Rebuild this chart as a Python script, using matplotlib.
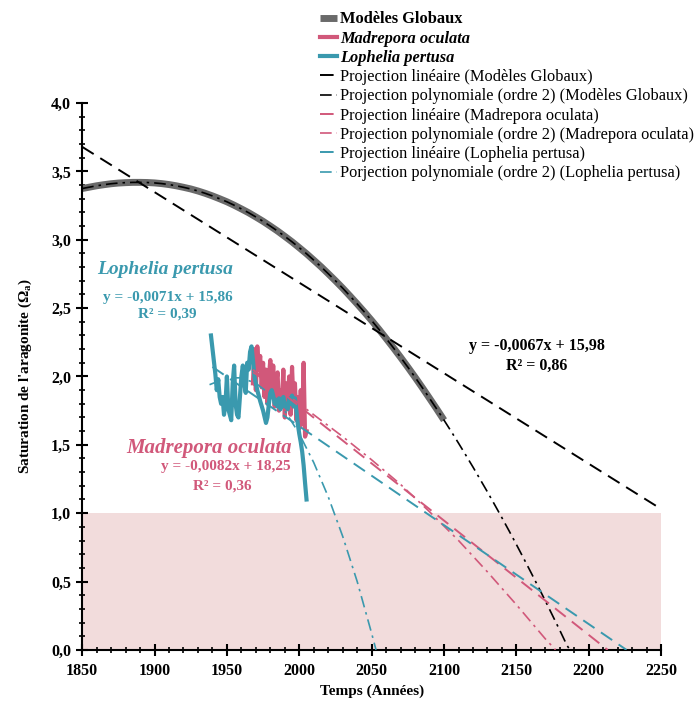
import matplotlib
matplotlib.use("Agg")
import matplotlib.pyplot as plt
from matplotlib.ticker import MultipleLocator, FuncFormatter

plt.rcParams['font.family'] = ['Liberation Serif', 'DejaVu Serif']
plt.rcParams['mathtext.fontset'] = 'custom'
plt.rcParams['mathtext.rm'] = 'Liberation Serif'
plt.rcParams['mathtext.bf'] = 'Liberation Serif:bold'

GREY = '#6a6a6a'
PINK = '#d1587a'
TEAL = '#3a99ae'

# Global models (simulated saturation)
global_years = list(range(1850, 2101, 5))
global_vals = [3.375, 3.385, 3.395, 3.403, 3.410, 3.415, 3.418, 3.420, 3.420, 3.419,
               3.416, 3.411, 3.404, 3.395, 3.384, 3.372, 3.357, 3.340, 3.321, 3.300,
               3.278, 3.253, 3.226, 3.198, 3.167, 3.135, 3.100, 3.064, 3.025, 2.985,
               2.942, 2.898, 2.851, 2.803, 2.752, 2.700, 2.646, 2.589, 2.531, 2.471,
               2.409, 2.345, 2.278, 2.210, 2.140, 2.068, 1.994, 1.918, 1.840, 1.761,
               1.680]

# Madrepora oculata reconstruction
mado_years = list(range(1968, 2006))
mado_vals = [1.95, 2.20, 1.90, 2.22, 2.05, 2.15, 1.92, 2.10, 1.85, 2.05, 1.80, 2.00,
             2.12, 1.85, 2.08, 1.78, 1.95, 2.03, 1.75, 1.90, 1.82, 2.05, 1.70, 1.95,
             1.78, 2.00, 1.72, 2.07, 1.80, 1.95, 1.68, 1.85, 1.62, 1.90, 1.65, 2.10,
             1.56, 1.60]

# Lophelia pertusa reconstruction
loph_years = [1939, 1942, 1943, 1944, 1945, 1946, 1947, 1948, 1949, 1950, 1951, 1952,
              1953, 1954, 1955, 1956, 1957, 1958, 1959, 1960, 1961, 1962, 1963, 1964,
              1965, 1966, 1967, 1968, 1969, 1971, 1973, 1975, 1977, 1978, 1979, 1980,
              1981, 1982, 1983, 1984, 1985, 1986, 1987, 1988, 1989, 1990, 1991, 1992,
              1993, 1994, 1995, 1996, 1997, 1998, 1999, 2000, 2001, 2002, 2003, 2004,
              2005]
loph_vals = [2.30, 2.02, 1.90, 1.98, 1.85, 1.80, 1.85, 1.72, 1.80, 2.00, 1.76, 1.72,
             1.68, 1.95, 2.08, 1.80, 1.72, 1.70, 1.85, 2.00, 2.08, 1.95, 1.88, 2.10,
             2.05, 2.18, 2.22, 2.12, 2.00, 1.90, 1.82, 1.75, 1.66, 1.70, 1.80, 1.88,
             1.90, 1.86, 1.80, 1.83, 1.78, 1.84, 1.76, 1.82, 1.85, 1.78, 1.80, 1.76,
             1.84, 1.80, 1.86, 1.78, 1.84, 1.75, 1.65, 1.58, 1.52, 1.45, 1.35, 1.22,
             1.10]

# Projections
glob_lin_years = [1850, 2250]
glob_lin_vals = [3.68, 1.03]
glob_poly_years = global_years + list(range(2105, 2186, 5)) + [2187]
glob_poly_vals = global_vals + [1.597, 1.512, 1.425, 1.337, 1.246, 1.155, 1.061, 0.966,
                                0.869, 0.770, 0.669, 0.567, 0.463, 0.358, 0.250, 0.142,
                                0.031, 0.0]

mado_lin_years = [1968, 2213]
mado_lin_vals = [2.05, 0.0]
mado_poly_years = [1968, 1990, 2010, 2030, 2050, 2070, 2090, 2110, 2130, 2150, 2170, 2177]
mado_poly_vals = [2.03, 1.88, 1.72, 1.56, 1.39, 1.21, 1.01, 0.80, 0.57, 0.33, 0.08, 0.0]

loph_lin_years = [1940, 2226]
loph_lin_vals = [2.07, 0.0]
loph_poly_years = [1938, 1950, 1960, 1970, 1980, 1990, 2000, 2010, 2020, 2030, 2040, 2050, 2053]
loph_poly_vals = [1.94, 1.99, 1.99, 1.95, 1.87, 1.75, 1.58, 1.37, 1.12, 0.83, 0.50, 0.12, 0.0]

fig = plt.figure(figsize=(6.96, 7.11), dpi=100)
ax = fig.add_axes([0.118, 0.086, 0.832, 0.769])

ax.axhspan(0, 1, color='#f2dcdc', zorder=0, lw=0)

l1, = ax.plot(global_years, global_vals, color=GREY, lw=5, solid_capstyle='butt', zorder=2)
l2, = ax.plot(mado_years, mado_vals, color=PINK, lw=3, zorder=3)
l3, = ax.plot(loph_years, loph_vals, color=TEAL, lw=3, zorder=4)
l4, = ax.plot(glob_lin_years, glob_lin_vals, color='black', lw=1.4, ls=(0, (7, 4)), zorder=5)
l5, = ax.plot(glob_poly_years, glob_poly_vals, color='black', lw=1.2, ls=(0, (7, 3, 1.5, 3)), zorder=5)
l6, = ax.plot(mado_lin_years, mado_lin_vals, color=PINK, lw=1.4, ls=(0, (7, 4)), zorder=5)
l7, = ax.plot(mado_poly_years, mado_poly_vals, color=PINK, lw=1.2, ls=(0, (7, 3, 1.5, 3)), zorder=5)
l8, = ax.plot(loph_lin_years, loph_lin_vals, color=TEAL, lw=1.4, ls=(0, (7, 4)), zorder=5)
l9, = ax.plot(loph_poly_years, loph_poly_vals, color=TEAL, lw=1.2, ls=(0, (7, 3, 1.5, 3)), zorder=5)

ax.set_xlim(1850, 2250)
ax.set_ylim(0, 4)
ax.spines['top'].set_visible(False)
ax.spines['right'].set_visible(False)
ax.spines['left'].set_linewidth(1.5)
ax.spines['bottom'].set_linewidth(1.5)
ax.xaxis.set_major_locator(MultipleLocator(50))
ax.xaxis.set_minor_locator(MultipleLocator(10))
ax.yaxis.set_major_locator(MultipleLocator(0.5))
ax.yaxis.set_minor_locator(MultipleLocator(0.1))
ax.yaxis.set_major_formatter(FuncFormatter(lambda v, p: f"{v:.1f}".replace('.', ',')))
ax.tick_params(which='major', direction='inout', length=9, width=1.5, labelsize=11.5)
ax.tick_params(which='minor', direction='inout', length=5, width=1.2)
ax.tick_params(axis='x', pad=5)
for lab in ax.get_xticklabels() + ax.get_yticklabels():
    lab.set_fontweight('bold')

ax.set_xlabel("Temps (Années)", fontsize=11, fontweight='bold', labelpad=4)
ax.set_ylabel(r"Saturation de l'aragonite ($\mathbf{\Omega_a}$)", fontsize=11,
              fontweight='bold', labelpad=12)

# Regression annotations
ax.text(1907, 2.78, "Lophelia pertusa", color=TEAL, fontsize=14, fontweight='bold',
        fontstyle='italic', ha='center', va='center')
ax.text(1909, 2.58, "y = -0,0071x + 15,86", color=TEAL, fontsize=11, fontweight='bold',
        ha='center', va='center')
ax.text(1909, 2.46, "R² = 0,39", color=TEAL, fontsize=11, fontweight='bold',
        ha='center', va='center')

ax.text(1938, 1.48, "Madrepora oculata", color=PINK, fontsize=15, fontweight='bold',
        fontstyle='italic', ha='center', va='center')
ax.text(1949, 1.34, "y = -0,0082x + 18,25", color=PINK, fontsize=11, fontweight='bold',
        ha='center', va='center')
ax.text(1947, 1.20, "R² = 0,36", color=PINK, fontsize=11, fontweight='bold',
        ha='center', va='center')

ax.text(2164, 2.22, "y = -0,0067x + 15,98", color='black', fontsize=11.5, fontweight='bold',
        ha='center', va='center')
ax.text(2164, 2.08, "R² = 0,86", color='black', fontsize=11.5, fontweight='bold',
        ha='center', va='center')

labels = ["Modèles Globaux", "Madrepora oculata", "Lophelia pertusa",
          "Projection linéaire (Modèles Globaux)",
          "Projection polynomiale (ordre 2) (Modèles Globaux)",
          "Projection linéaire (Madrepora oculata)",
          "Projection polynomiale (ordre 2) (Madrepora oculata)",
          "Projection linéaire (Lophelia pertusa)",
          "Porjection polynomiale (ordre 2) (Lophelia pertusa)"]
leg = fig.legend([l1, l2, l3, l4, l5, l6, l7, l8, l9], labels, loc='upper left',
                 bbox_to_anchor=(0.446, 0.998), frameon=False, fontsize=11.8,
                 handlelength=1.0, handletextpad=0.2, labelspacing=0.2,
                 borderaxespad=0.2)
texts = leg.get_texts()
texts[0].set_fontweight('bold')
for t in texts[1:3]:
    t.set_fontweight('bold')
    t.set_fontstyle('italic')

fig.savefig("out.png", dpi=100)
